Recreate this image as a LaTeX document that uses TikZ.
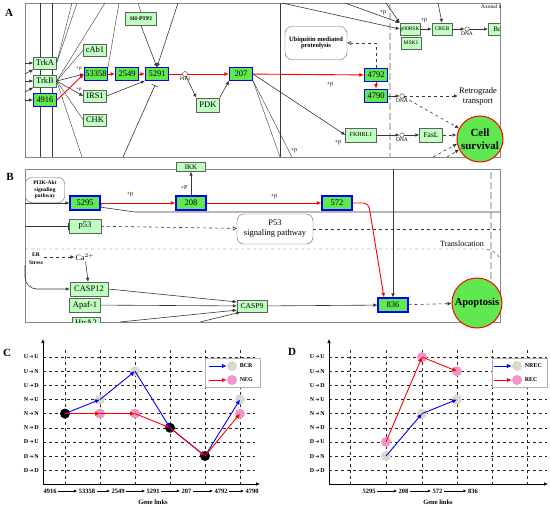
\documentclass[tikz,border=0pt]{standalone}
\usepackage{fontspec}
\setmainfont{Liberation Serif}
\newfontfamily\symfont{DejaVu Sans}
\usetikzlibrary{positioning, arrows.meta, calc}

\definecolor{keggbg}{RGB}{191,255,191}
\definecolor{hitbg}{RGB}{96,232,80}
\definecolor{edgec}{RGB}{55,55,55}
\definecolor{panelc}{RGB}{135,135,135}
\definecolor{bcrc}{RGB}{218,218,198}
\definecolor{negc}{RGB}{240,150,205}

\newcommand{\fsz}[1]{\fontsize{#1}{#1}\selectfont}
\newcommand{\trn}[2]{#1\,{\symfont\fsz{5}➔}\,#2}

\begin{document}
\begin{tikzpicture}[x=1pt, y=-1pt,
        gene/.style={rectangle, draw=gray!75!black, fill=keggbg, inner sep=0.6pt, minimum width=23pt, minimum height=12.5pt, font=\fsz{8.5}},
        smallgene/.style={gene, minimum width=20pt, minimum height=12pt, font=\fsz{5.5}},
        hit/.style={gene, draw=blue, line width=1.1pt, fill=hitbg},
        hitb/.style={hit, minimum width=30pt, minimum height=14pt},
        pathway/.style={rectangle, rounded corners=7pt, draw=gray!75!black, fill=white, align=center, inner sep=1pt},
        fate/.style={circle, draw=red, line width=1pt, fill=hitbg, align=center, inner sep=0pt},
        dnao/.style={circle, draw=edgec, fill=white, inner sep=0pt, minimum size=4.5pt, thin},
        plbl/.style={font=\fsz{6}, inner sep=0.5pt},
        panel/.style={draw=panelc, line width=0.8pt},
        tag/.style={font=\bfseries\fsz{11}},
        wire/.style={edgec, thin},
        arr/.style={-{Latex[length=4pt, width=3.6pt]}, edgec, semithick},
        redarr/.style={-{Latex[length=4.5pt, width=4pt]}, red, line width=0.9pt},
        dasharr/.style={arr, dashed},
        openarr/.style={-{Triangle[open, length=4pt, width=4pt]}, edgec, dashed, semithick},
        inhib/.style={-{Bar[width=7pt]}, edgec, semithick},
        vbar/.style={gray!45, line width=2.5pt, dash pattern=on 7pt off 3pt},
        gridl/.style={dashed, black!85, thin},
        axis/.style={-{Latex[length=4pt, width=3.5pt]}, black, semithick},
        ylab/.style={anchor=east, font=\bfseries\fsz{6}, inner sep=1pt},
        xlab/.style={font=\bfseries\fsz{6.5}, inner sep=1.5pt},
        xarr/.style={-{Latex[length=3pt, width=3pt]}, black, line width=0.9pt},
        dot/.style={circle, inner sep=0pt, minimum size=10pt},
        bcr/.style={dot, fill=bcrc},
        neg/.style={dot, fill=negc},
        both/.style={dot, fill=black},
        bluelink/.style={-{Latex[length=5pt, width=4.5pt]}, blue, line width=0.9pt},
        redlink/.style={-{Latex[length=5pt, width=4.5pt]}, red, line width=0.9pt},
        legbox/.style={draw=gray!60, minimum width=55pt, minimum height=29pt},
        legtext/.style={font=\bfseries\fsz{6}, inner sep=1pt},
    ]
    \useasboundingbox (0,0) rectangle (550,507);

    % ================= A: neurotrophin part =================
    \node[tag] (tagA) at (9,13) {A};
    \draw[panel] (25,3) rectangle (500,157);
    \draw[wire] (40,3) -- (40,157) (52,3) -- (52,157) (280,3) -- (280,157);
    \draw[vbar] (390,3) -- (390,157);

    % free ends on the frame
    \foreach \n/\x in {tA1/72, tA2/77, tA3/105, tA4/119, tA5/178, tA6/282, tA7/345, tA8/386, tA9/438, tA10/138}
        \coordinate (\n) at (\x,3);
    \foreach \n/\x in {bA1/82, bA2/123, bA3/280, bA4/292, bA5/433, bA6/447}
        \coordinate (\n) at (\x,157);
    \foreach \n/\y in {lA1/63, lA2/74, lA3/81, lA4/92, lA5/100}
        \coordinate (\n) at (25,\y);

    % receptors
    \node[gene] (TrkA) at (45,63) {TrkA};
    \node[gene] (TrkB) at (45,81) {TrkB};
    \node[hit] (n4916) at (45,100) {4916};

    % adaptors
    \node[gene] (cAb1) at (95,50) {cAb1};
    \node[hit] (n53358) at (96,74) {53358};
    \node[hit, right=7pt of n53358] (n2549) {2549};
    \node[hit] (n5291) at (157,74) {5291};
    \node[gene] (IRS1) at (95,96) {IRS1};
    \node[gene] (CHK) at (95,120) {CHK};
    \node[gene, font=\bfseries\fsz{5.5}, minimum width=31pt, minimum height=13pt] (SHPTP2) at (141,19) {SH-PTP2};
    \node[gene, minimum height=14pt] (PDK) at (208,105) {PDK};
    \node[hit] (n207) at (241,74) {207};
    \node[hit, minimum height=13.5pt] (n4792) at (376,75) {4792};
    \node[hit, minimum height=13.5pt] (n4790) at (376,96) {4790};
    \node[pathway, font=\bfseries\fsz{6.5}, minimum width=62pt, minimum height=33pt] (ubq) at (316,43) {Ubiquitin mediated\\proteolysis};

    % nucleus side
    \node[smallgene] (p90RSK) at (410,29) {p90RSK};
    \node[smallgene] (MSK1) at (411,43) {MSK1};
    \node[smallgene] (CREB) at (442,29) {CREB};
    \node[dnao, label={[plbl, font=\fsz{5.5}]below:DNA}] (dna1) at (467,29) {};
    \begin{scope}
        \clip (25,0) rectangle (500,157);
        \node[gene, anchor=west, font=\fsz{7}, minimum width=26pt] (Bcl) at (488,29) {Bcl-2};
        \node[anchor=west, font=\fsz{5.5}, inner sep=0pt] (axon) at (481,7) {Axonal transport};
    \end{scope}
    \node[dnao, label={[plbl, font=\fsz{5.5}]below:DNA}] (dna2) at (402,96) {};
    \node[font=\fontsize{8.5}{10}\selectfont, align=center, inner sep=1pt] (retro) at (478,96) {Retrograde\\transport};
    \node[gene, font=\fsz{6}, minimum width=31pt, minimum height=14pt] (FKHRL1) at (361,135) {FKHRL1};
    \node[dnao, label={[plbl, font=\fsz{5.5}]below:DNA}] (dna3) at (402,135) {};
    \node[gene, font=\fsz{7.5}, minimum height=14pt] (FasL) at (431,135) {FasL};
    \node[fate, minimum size=46pt, font=\bfseries\fontsize{11}{13.5}\selectfont] (surv) at (480,139) {Cell\\survival};

    % receptor fan
    \draw[arr] (lA1) -- (TrkA.west);
    \draw[arr] (lA2) -- (TrkA.south west);
    \draw[arr] (lA3) -- (TrkB.west);
    \draw[arr] (lA4) -- (TrkB.south west);
    \draw[arr] (lA5) -- (n4916.west);
    \draw[wire] (TrkA.east) -- (tA1);
    \draw[wire] (TrkA.east) -- (tA2);
    \draw[wire] (TrkB.east) -- (tA3);
    \draw[wire] (TrkB.east) -- (cAb1.west);
    \draw[wire] (TrkB.east) -- (CHK.west);
    \draw[wire] (TrkB.east) -- (bA1);
    \draw[arr] (TrkB.east) -- (n53358.west);
    \draw[arr] (TrkB.east) -- (IRS1.west);
    \draw[wire] (n53358.north east) -- (tA4);
    \node[plbl, font=\fsz{5}] (p1) at (79,69) {+p};
    \node[plbl, font=\fsz{5}] (p2) at (79,90) {+p};

    % into 5291
    \draw[wire] (tA10) -- (SHPTP2.north);
    \draw[arr] (SHPTP2.south) -- (n5291.north);
    \draw[arr] (tA5) -- (n5291.north);
    \draw[arr] (IRS1.east) -- (n5291.south west);
    \draw[inhib, shorten >=5pt] (bA2) -- (n5291.south);

    % highlighted route
    \draw[redarr] (n4916.east) -- (n53358.west);
    \draw[redarr] (n53358) -- (n2549);
    \draw[redarr] (n2549) -- (n5291);
    \draw[redarr] (n5291) -- (n207);
    \node[dnao, minimum size=5pt, label={[plbl, font=\fsz{5}]below:PIP3}] (pip) at (185,74) {};
    \draw[arr] (pip) -- (PDK.north west);
    \draw[arr] (PDK.north east) -- (n207.south west);
    \draw[redarr] (n207) -- (n4792);
    \draw[redarr] (n4792) -- (n4790);
    \node[plbl] (p3) at (330,84) {+p};
    \draw[openarr] (n4792.north) |- (ubq.east);

    % 207 to the right and down
    \draw[arr] (n207.east) -- (FKHRL1.west);
    \node[plbl] (p4) at (338,142) {+p};
    \draw[wire] (n207.south east) -- (bA3);
    \draw[wire] (n207.south east) -- (bA4);
    \node[plbl] (p5) at (294,150) {+p};

    % p90RSK / CREB
    \draw[arr] (tA6) -- (p90RSK.west);
    \draw[arr] (tA7) -- (p90RSK.north west);
    \draw[arr] (tA8) -- (p90RSK.north west);
    \node[plbl] (p6) at (383,12) {+p};
    \draw[arr] (tA9) -- (CREB.north);
    \draw[arr] (p90RSK) -- (CREB);
    \node[plbl] (p7) at (424,20) {+p};
    \draw[arr] (CREB) -- (dna1);
    \draw[arr] (dna1) -- (Bcl.west);

    % outputs
    \draw[arr] (n4790) -- (dna2);
    \draw[dasharr] (dna2) -- (retro);
    \draw[dasharr] (dna2) -- (surv.153);
    \draw[arr] (FKHRL1) -- (dna3);
    \draw[arr] (dna3) -- (FasL);
    \draw[dasharr] (FasL.east) -- (FasL.east -| surv.west);
    \draw[dasharr] (bA5) -- (surv.192);
    \draw[dasharr] (bA6) -- (surv.207);

    % ================= B: apoptosis part =================
    \node[tag] (tagB) at (10,177) {B};
    \draw[panel] (25,169) rectangle (500,322);
    \draw[vbar] (491,172) -- (491,283);
    \draw[wire, dashed] (25,249) -- (484,249) to[out=0, in=125] (500,258);

    \coordinate (lB1) at (25,203);
    \coordinate (lB2) at (25,226);
    \coordinate (lB3) at (25,265);
    \coordinate (rB1) at (500,212);
    \coordinate (kB1) at (135,212);
    \coordinate (tB1) at (393,169);
    \coordinate (bB1) at (120,322);
    \coordinate (bB2) at (200,322);

    \node[pathway, font=\bfseries\fontsize{5.5}{6.5}\selectfont, minimum width=39pt, minimum height=25pt, rounded corners=6pt] (pi3k) at (45,190) {PI3K-Akt\\signaling\\pathway};
    \node[hitb] (n5295) at (85,203) {5295};
    \node[hitb] (n208) at (191,203) {208};
    \node[gene, font=\fsz{7}, minimum width=29pt, minimum height=9pt] (IKK) at (191,167) {IKK};
    \node[hitb] (n572) at (337,203) {572};
    \node[hitb] (n836) at (393,305) {836};
    \node[gene, minimum width=32pt, minimum height=14pt] (p53) at (85,226) {p53};
    \node[pathway, font=\fontsize{8.5}{10}\selectfont, minimum width=76pt, minimum height=30pt] (p53path) at (275,229) {P53\\signaling pathway};
    \node[font=\bfseries\fontsize{5.5}{8}\selectfont, align=center, inner sep=1pt] (er) at (36,259) {ER\\Stress};
    \node[font=\fsz{8}, inner sep=1pt] (ca) at (85,257) {Ca$^{2+}$};
    \node[gene, minimum width=38pt, minimum height=14pt] (CASP12) at (89,289) {CASP12};
    \node[gene, minimum width=31pt, minimum height=14pt] (Apaf1) at (85,305) {Apaf-1};
    \begin{scope}
        \clip (25,169) rectangle (500,322);
        \node[gene, minimum width=28pt, minimum height=12pt] (htra) at (86,323) {HtrA2};
    \end{scope}
    \node[gene, font=\fsz{7.5}, minimum width=30pt, minimum height=12pt] (CASP9) at (252,306) {CASP9};
    \node[fate, minimum size=50pt, font=\bfseries\fsz{10.5}] (apop) at (477,303) {Apoptosis};
    \node[font=\fsz{8}] (transl) at (462,244) {Translocation};

    % survival signal
    \draw[arr] (lB1) -- (n5295.west);
    \draw[redarr] (n5295) -- (n208);
    \node[plbl] (p8) at (130,194) {+p};
    \draw[arr] (n208) -- (IKK);
    \node[plbl] (p9) at (184,188) {+P};
    \draw[redarr] (n208) -- (n572);
    \node[plbl] (p10) at (274,196) {+p};
    \draw[redarr, rounded corners=5pt] (n572.east) -- ++(16,0) -- (n836.140);
    \draw[inhib] (rB1) -- (kB1) -- (n5295.-15);

    % p53 branch
    \draw[inhib] (lB2) -- (p53.west);
    \draw[openarr] (p53) -- (p53path);
    \draw[wire, dashed] (p53path.east) -- (p53path.east -| rB1);

    % ER stress and caspases
    \draw[dasharr] (er.east |- ca.west) -- (ca.west);
    \draw[arr] (ca) -- (CASP12);
    \draw[arr, rounded corners=12pt] (lB3) |- (CASP12.west);
    \draw[arr] (CASP12.east) -- (CASP9.165);
    \draw[arr] (Apaf1) -- (CASP9);
    \draw[arr] (bB1) -- (CASP9.195);
    \draw[arr] (bB2) -- (CASP9.208);
    \draw[arr] (CASP9) -- (n836);
    \draw[arr] (tB1) -- (n836.north);
    \draw[dasharr] (n836) -- (apop);

    % ================= C: BCR vs NEG =================
    \node[tag] (tagC) at (7,353) {C};
    \foreach \i in {0,...,8}
        \draw[gridl] (43,357+14.15*\i) -- (255,357+14.15*\i);
    \foreach \x in {65,100,135,170,205,240}
        \draw[gridl] (\x,350) -- (\x,484);
    \coordinate (oC) at (43,484);
    \coordinate (yC) at (43,339);
    \coordinate (xC) at (260,484);
    \draw[axis] (oC) -- (yC);
    \draw[axis] (oC) -- (xC);
    \foreach \a/\b [count=\i from 0] in {U/U, U/N, U/D, N/U, N/N, N/D, D/U, D/N, D/D}
        \node[ylab] (yc\i) at (40,357+14.15*\i) {\trn{\a}{\b}};

    \foreach \n/\x [count=\k] in {4916/50, 53358/87, 2549/118, 5291/153, 207/186.5, 4792/221, 4790/252}
        \node[xlab] (gc\k) at (\x,491) {\n};
    \foreach \a/\b in {1/2, 2/3, 3/4, 4/5, 5/6, 6/7}
        \draw[xarr] (gc\a) -- (gc\b);
    \node[xlab] (glC) at (153,502) {Gene links};

    % points
    \node[both] (cs1) at (65,413.6) {};
    \node[bcr] (cb2) at (100,399.5) {};
    \node[bcr] (cb3) at (135,371.2) {};
    \node[both] (cs4) at (170,427.8) {};
    \node[both] (cs5) at (205,456) {};
    \node[bcr] (cb6) at (240,399.5) {};
    \node[neg] (cn2) at (100,413.6) {};
    \node[neg] (cn3) at (135,413.6) {};
    \node[neg] (cn6) at (240,413.6) {};
    \draw[bluelink] (cs1.center) -- (cb2.center);
    \draw[bluelink] (cb2.center) -- (cb3.center);
    \draw[bluelink] (cb3.center) -- (cs4.center);
    \draw[bluelink] (cs4.center) -- (cs5.center);
    \draw[bluelink] (cs5.center) -- (cb6.center);
    \draw[redlink] (cs1.center) -- (cn2.center);
    \draw[redlink] (cn2.center) -- (cn3.center);
    \draw[redlink] (cn3.center) -- (cs4.center);
    \draw[redlink] (cs4.center) -- (cs5.center);
    \draw[redlink] (cs5.center) -- (cn6.center);

    % legend
    \node[legbox, fill=white] (legC) at (232.5,372.5) {};
    \node[bcr] (lgc1) at (232,366) {};
    \node[neg] (lgc2) at (232,380) {};
    \draw[bluelink] (lgc1.west) ++(-18,0) -- (lgc1.west);
    \draw[redlink] (lgc2.west) ++(-18,0) -- (lgc2.west);
    \node[legtext, right=1.5pt of lgc1] (lgtc1) {BCR};
    \node[legtext, right=1.5pt of lgc2] (lgtc2) {NEG};

    % ================= D: NREC vs REC =================
    \node[tag] (tagD) at (292,352) {D};
    \foreach \i in {0,...,8}
        \draw[gridl] (329,357+14.15*\i) -- (547,357+14.15*\i);
    \foreach \x in {350,386,422,457,492,527}
        \draw[gridl] (\x,350) -- (\x,484);
    \coordinate (oD) at (329,484);
    \coordinate (yD) at (329,339);
    \coordinate (xD) at (548,484);
    \draw[axis] (oD) -- (yD);
    \draw[axis] (oD) -- (xD);
    \foreach \a/\b [count=\i from 0] in {U/U, U/N, U/D, N/U, N/N, N/D, D/U, D/N, D/D}
        \node[ylab] (yd\i) at (326,357+14.15*\i) {\trn{\a}{\b}};

    \foreach \n/\x [count=\k] in {5295/369, 208/403.5, 572/437.5, 836/473}
        \node[xlab] (gd\k) at (\x,491) {\n};
    \foreach \a/\b in {1/2, 2/3, 3/4}
        \draw[xarr] (gd\a) -- (gd\b);
    \node[xlab] (glD) at (438,502) {Gene links};

    % points
    \node[bcr] (dn1) at (386,456) {};
    \node[bcr] (dn2) at (422,413.6) {};
    \node[bcr] (dn3) at (457,399.5) {};
    \node[neg] (dr1) at (386,441.9) {};
    \node[neg] (dr2) at (422,357) {};
    \node[neg] (dr3) at (457,371.2) {};
    \draw[bluelink] (dn1.center) -- (dn2.center);
    \draw[bluelink] (dn2.center) -- (dn3.center);
    \draw[redlink] (dr1.center) -- (dr2.center);
    \draw[redlink] (dr2.center) -- (dr3.center);

    % legend
    \node[legbox, fill=white] (legD) at (519.5,372.5) {};
    \node[bcr] (lgd1) at (517,366) {};
    \node[neg] (lgd2) at (517,380) {};
    \draw[bluelink] (lgd1.west) ++(-18,0) -- (lgd1.west);
    \draw[redlink] (lgd2.west) ++(-18,0) -- (lgd2.west);
    \node[legtext, right=1.5pt of lgd1] (lgtd1) {NREC};
    \node[legtext, right=1.5pt of lgd2] (lgtd2) {REC};
\end{tikzpicture}
\end{document}
